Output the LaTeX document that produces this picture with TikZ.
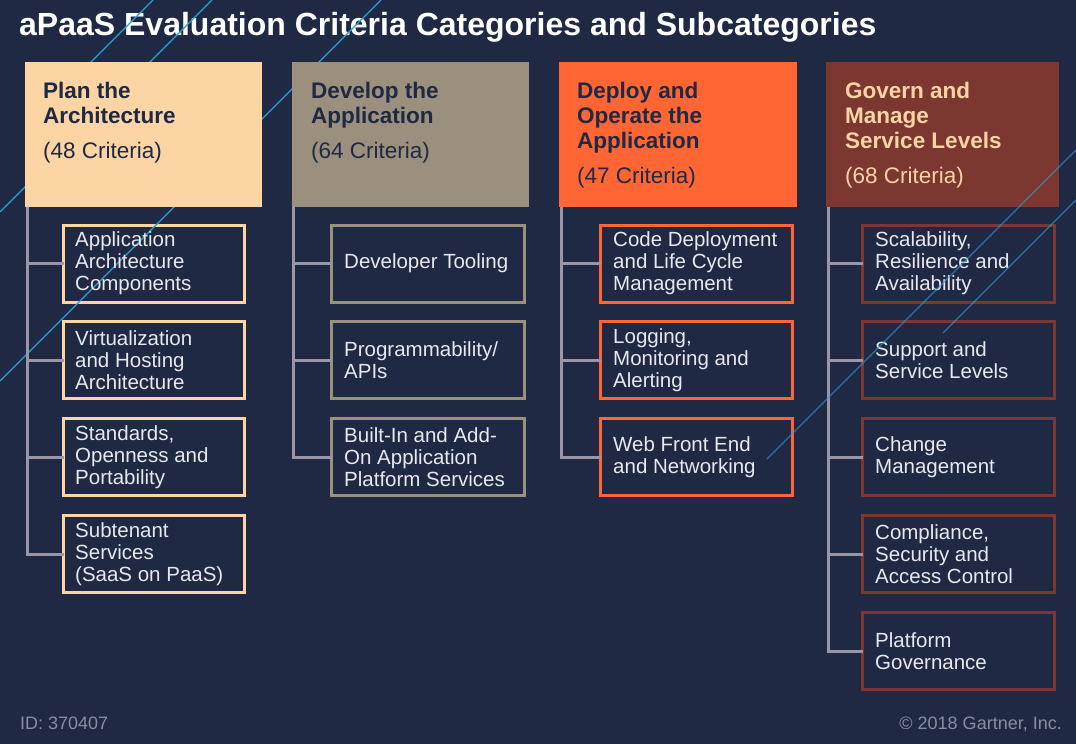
\documentclass[tikz,border=0pt]{standalone}
\usepackage{fontspec}
\setmainfont{Liberation Sans}
\definecolor{bg}{HTML}{1F2944}
\definecolor{peach}{HTML}{FDD5A5}
\definecolor{tan}{HTML}{9B8F7D}
\definecolor{orng}{HTML}{FF6633}
\definecolor{brwn}{HTML}{7B3730}
\definecolor{navytext}{HTML}{1F2944}
\definecolor{treegray}{HTML}{9A96A8}
\definecolor{childtext}{HTML}{E8E8EE}
\definecolor{foottext}{HTML}{8A8D9E}
\definecolor{deco}{HTML}{2E9FD4}
\begin{document}
\begin{tikzpicture}[x=1pt,y=-1pt,
  hbox/.style={draw=none,inner sep=0,outer sep=0,minimum height=144.5,anchor=north west},
  htext/.style={anchor=north west,inner sep=0,align=left,font=\bfseries\fontsize{22.5}{25}\selectfont},
  cbox/.style={draw,line width=3pt,fill=bg,inner sep=0,outer sep=0,minimum height=77},
  ctext/.style={anchor=west,inner sep=0,align=left,text=childtext,font=\fontsize{20.5}{22}\selectfont},
  tree/.style={draw=treegray,line width=3pt},
  decoline/.style={draw=deco,line width=1.1pt},
  foot/.style={inner sep=0,text=foottext,font=\fontsize{18}{20}\selectfont}]
\fill[bg] (0,0) rectangle (1076,744);
\useasboundingbox (0,0) rectangle (1076,744);

% title
\node[anchor=base west,inner sep=0,text=white,font=\bfseries\fontsize{32}{36}\selectfont] (title) at (19,35) {aPaaS Evaluation Criteria Categories and Subcategories};

% child boxes
\node[cbox,draw=peach,minimum width=181] (c11) at (154,263.5) {};
\node[cbox,draw=peach,minimum width=181] (c12) at (154,360) {};
\node[cbox,draw=peach,minimum width=181] (c13) at (154,457) {};
\node[cbox,draw=peach,minimum width=181] (c14) at (154,554) {};
\node[cbox,draw=tan,minimum width=193] (c21) at (428,263.5) {};
\node[cbox,draw=tan,minimum width=193] (c22) at (428,360) {};
\node[cbox,draw=tan,minimum width=193] (c23) at (428,457) {};
\node[cbox,draw=orng,minimum width=192] (c31) at (696.5,263.5) {};
\node[cbox,draw=orng,minimum width=192] (c32) at (696.5,360) {};
\node[cbox,draw=orng,minimum width=192] (c33) at (696.5,457) {};
\node[cbox,draw=brwn,minimum width=192] (c41) at (958.5,263.5) {};
\node[cbox,draw=brwn,minimum width=192] (c42) at (958.5,360) {};
\node[cbox,draw=brwn,minimum width=192] (c43) at (958.5,457) {};
\node[cbox,draw=brwn,minimum width=192] (c44) at (958.5,554) {};
\node[cbox,draw=brwn,minimum width=192] (c45) at (958.5,651) {};

% decorative lines behind headers
\draw[decoline] (153,0) -- (60,93);
\draw[decoline] (212,0) -- (0,212);
\draw[decoline] (381,0) -- (0,381);

% header boxes
\node[hbox,fill=peach,minimum width=237] (h1) at (25,62) {};
\node[hbox,fill=tan,minimum width=237] (h2) at (292,62) {};
\node[hbox,fill=orng,minimum width=238] (h3) at (559,62) {};
\node[hbox,fill=brwn,minimum width=233] (h4) at (826,62) {};

\node[htext,text=navytext] (h1t) at (43,81.6) {Plan the\\Architecture\\[10pt]\mdseries(48 Criteria)};
\node[htext,text=navytext] (h2t) at (311,81.6) {Develop the\\Application\\[10pt]\mdseries(64 Criteria)};
\node[htext,text=navytext] (h3t) at (577,81.6) {Deploy and\\Operate the\\Application\\[10pt]\mdseries(47 Criteria)};
\node[htext,text=peach] (h4t) at (845,81.6) {Govern and\\Manage\\Service Levels\\[10pt]\mdseries(68 Criteria)};

% tree connectors
\foreach \c in {c11,c12,c13,c14} \draw[tree] ([xshift=2pt]h1.south west) |- (\c.west);
\foreach \c in {c21,c22,c23} \draw[tree] ([xshift=1.5pt]h2.south west) |- (\c.west);
\foreach \c in {c31,c32,c33} \draw[tree] ([xshift=2pt]h3.south west) |- (\c.west);
\foreach \c in {c41,c42,c43,c44,c45} \draw[tree] ([xshift=2pt]h4.south west) |- (\c.west);

% child texts
\node[ctext] (c11t) at ([xshift=11.5pt]c11.west) {Application\\Architecture\\Components};
\node[ctext] (c12t) at ([xshift=11.5pt]c12.west) {Virtualization\\and Hosting\\Architecture};
\node[ctext] (c13t) at ([xshift=11.5pt]c13.west) {Standards,\\Openness and\\Portability};
\node[ctext] (c14t) at ([xshift=11.5pt]c14.west) {Subtenant\\Services\\(SaaS on PaaS)};
\node[ctext] (c21t) at ([xshift=12.5pt]c21.west) {Developer Tooling};
\node[ctext] (c22t) at ([xshift=12.5pt]c22.west) {Programmability/\\APIs};
\node[ctext] (c23t) at ([xshift=12.5pt]c23.west) {Built-In and Add-\\On Application\\Platform Services};
\node[ctext] (c31t) at ([xshift=12.5pt]c31.west) {Code Deployment\\and Life Cycle\\Management};
\node[ctext] (c32t) at ([xshift=12.5pt]c32.west) {Logging,\\Monitoring and\\Alerting};
\node[ctext] (c33t) at ([xshift=12.5pt]c33.west) {Web Front End\\and Networking};
\node[ctext] (c41t) at ([xshift=12.5pt]c41.west) {Scalability,\\Resilience and\\Availability};
\node[ctext] (c42t) at ([xshift=12.5pt]c42.west) {Support and\\Service Levels};
\node[ctext] (c43t) at ([xshift=12.5pt]c43.west) {Change\\Management};
\node[ctext] (c44t) at ([xshift=12.5pt]c44.west) {Compliance,\\Security and\\Access Control};
\node[ctext] (c45t) at ([xshift=12.5pt]c45.west) {Platform\\Governance};

% decorative lines on top
\draw[decoline,opacity=0.65] (1076,150) -- (767,459);
\draw[decoline,opacity=0.65] (1076,200) -- (943,333);

% footer
\node[foot,anchor=base west] (id) at (20,729) {ID: 370407};
\node[foot,anchor=base east] (copy) at (1062,729) {© 2018 Gartner, Inc.};
\end{tikzpicture}
\end{document}
